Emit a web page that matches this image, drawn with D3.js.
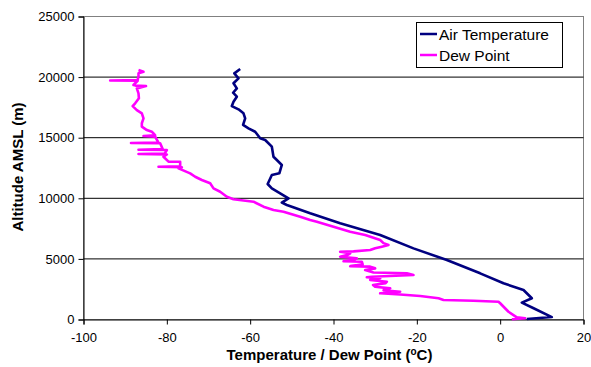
<!DOCTYPE html>
<html>
<head>
<meta charset="utf-8">
<script src="https://cdn.jsdelivr.net/npm/d3@7"></script>
<style>
  body { margin: 0; background: #fff; }
  svg { display: block; font-family: "Liberation Sans", Arial, sans-serif; }
</style>
</head>
<body>
<svg id="chart" width="591" height="367"></svg>
<script>
// altitude (m) / air temperature (C), surface upward
const airAlt = [40, 200, 950, 1390, 1750, 2430, 2990, 3810, 4910, 5870, 6970, 7940, 8760, 9450, 9640,
  10000, 10410, 10820, 11180, 11920, 12060, 12750, 13160, 13430, 14260, 14810, 14950, 15490, 15770,
  16050, 16600, 17010, 17340, 17610, 17970, 18380, 18710, 19070, 19490, 19900, 20310, 20670];
const airTemp = [6.4, 12.4, 7.9, 5.2, 7.6, 5.6, 0.8, -4.8, -12.8, -20.8, -28.8, -38.4, -45.6, -51.2, -52.4,
  -50.8, -52.8, -54.8, -55.8, -54.8, -53.0, -52.4, -53.6, -54.4, -54.8, -56.4, -57.6, -58.8, -60.4,
  -61.7, -61.2, -61.6, -62.8, -64.4, -64.0, -63.2, -64.1, -63.2, -64.0, -62.8, -63.8, -62.4];

// altitude (m) / dew point (C)
const dewAlt = [20, 100, 180, 640, 1340, 1470, 1550, 1610, 1750, 1940, 2060, 2160, 2290, 2420, 2570,
  2700, 2850, 3000, 3120, 3260, 3400, 3480, 3530, 3670, 3810, 3880, 4080, 4220, 4360, 4400, 4550,
  4770, 4800, 4950, 5050, 5180, 5350, 5460, 5590, 5620, 5730, 5880, 6010, 6150, 6300, 6560, 6970,
  7240, 7660, 8070, 8210, 8480, 8890, 9030, 9310, 9720, 9920, 10130, 10540, 10820, 11240, 11510,
  11780, 12060, 12470, 12560, 12600, 12650, 13020, 13020, 13430, 13620, 13650, 13700, 13980, 14000,
  14060, 14540, 14560, 14600, 15080, 15140, 15200, 15360, 15490, 15630, 15910, 16190, 16600, 17010,
  17280, 17610, 17840, 18250, 18660, 19070, 19260, 19300, 19350, 19490, 19700, 19720, 19760, 20100,
  20310, 20440, 20580];
const dewTemp = [2.8, 6.0, 4.0, 2.0, 0.0, -0.4, -6.4, -13.6, -14.8, -19.2, -24.0, -28.8, -24.0, -28.0, -26.4,
  -30.0, -30.5, -27.5, -27.2, -31.2, -28.8, -32.0, -30.8, -20.8, -22.4, -30.4, -32.4, -30.0, -31.2, -36.0, -33.0,
  -33.2, -37.6, -35.0, -34.4, -38.4, -36.5, -36.0, -38.4, -35.2, -31.2, -30.0, -28.4, -26.8, -28.0, -28.8, -32.4,
  -36.0, -40.0, -44.0, -45.6, -48.0, -52.0, -54.4, -56.8, -59.2, -64.0, -65.6, -67.2, -68.8, -69.6, -71.6,
  -73.2, -74.4, -77.2, -76.4, -82.0, -76.8, -76.8, -79.6, -80.8, -80.0, -86.8, -80.5, -80.0, -86.8,
  -81.0, -81.6, -88.6, -82.0, -82.8, -85.6, -82.8, -83.2, -83.6, -84.8, -86.0, -86.0, -85.6, -86.0,
  -87.2, -88.2, -87.6, -86.7, -86.8, -87.2, -85.0, -87.5, -88.0, -87.6, -87.0, -93.6, -87.0, -86.8,
  -86.8, -85.6, -86.8];

const xTicks = [-100, -80, -60, -40, -20, 0, 20];
const yTicks = [0, 5000, 10000, 15000, 20000, 25000];
const gridAlt = [5000, 10000, 15000, 20000];
const seriesNames = ['Air Temperature', 'Dew Point'];
const seriesColors = ['#000080', '#ff00ff'];

const plotLeft = 83.5, plotRight = 583.5, plotTop = 16.5, plotBottom = 319.5;

const svg = d3.select('#chart');
const x = d3.scaleLinear().domain([-100, 20]).range([plotLeft, plotRight]);
const y = d3.scaleLinear().domain([0, 25000]).range([plotBottom, plotTop]);

// plot area border
svg.append('rect')
  .attr('x', plotLeft).attr('y', plotTop)
  .attr('width', plotRight - plotLeft).attr('height', plotBottom - plotTop)
  .attr('fill', '#fff')
  .attr('stroke', '#808080');

svg.append('g').selectAll('line')
  .data(gridAlt)
  .join('line')
  .attr('x1', plotLeft).attr('x2', plotRight)
  .attr('y1', d => y(d)).attr('y2', d => y(d))
  .attr('stroke', '#000')
  .attr('stroke-width', 1);

const yAxis = d3.axisLeft(y).tickValues(yTicks).tickSize(5).tickPadding(4).tickFormat(d3.format('d'));
const xAxis = d3.axisBottom(x).tickValues(xTicks).tickSize(5).tickPadding(8).tickFormat(d3.format('d'));

const gy = svg.append('g').attr('transform', `translate(${plotLeft},0)`).call(yAxis);
const gx = svg.append('g').attr('transform', `translate(0,${plotBottom})`).call(xAxis);
[gx, gy].forEach(g => {
  g.select('.domain').attr('stroke', '#000');
  g.selectAll('.tick line').attr('stroke', '#000');
  g.selectAll('.tick text')
    .attr('fill', '#000')
    .style('font-size', '13px')
    .style('font-family', '"Liberation Sans", Arial, sans-serif');
});
gx.selectAll('.tick text').text(d => d < 0 ? '-' + Math.abs(d) : d);

const line = d3.line().x(d => x(d[1])).y(d => y(d[0]));

const series = [
  d3.zip(airAlt, airTemp),
  d3.zip(dewAlt, dewTemp)
];

// dew point under air temperature
[1, 0].forEach(i => {
  svg.append('path')
    .datum(series[i])
    .attr('d', line)
    .attr('fill', 'none')
    .attr('stroke', seriesColors[i])
    .attr('stroke-width', 2.6)
    .attr('stroke-linejoin', 'round');
});

// legend
const lg = svg.append('g');
lg.append('rect')
  .attr('x', 416.5).attr('y', 22.5)
  .attr('width', 146).attr('height', 45)
  .attr('fill', '#fff').attr('stroke', '#000');
seriesNames.forEach((name, i) => {
  const ly = 34 + i * 21;
  lg.append('line')
    .attr('x1', 420).attr('x2', 437)
    .attr('y1', ly).attr('y2', ly)
    .attr('stroke', seriesColors[i]).attr('stroke-width', 2.5);
  lg.append('text')
    .attr('x', 439).attr('y', ly + 5.5)
    .style('font-size', '15.5px')
    .text(name);
});

// axis titles
svg.append('text')
  .attr('transform', 'translate(23,167) rotate(-90)')
  .attr('text-anchor', 'middle')
  .style('font-size', '15px')
  .style('font-weight', 'bold')
  .text('Altitude AMSL (m)');

const xt = svg.append('text')
  .attr('x', x(-40) - 4).attr('y', 360)
  .attr('text-anchor', 'middle')
  .style('font-size', '15px')
  .style('font-weight', 'bold');
xt.append('tspan').text('Temperature / Dew Point (');
xt.append('tspan').attr('dy', -5).style('font-size', '10px').text('o');
xt.append('tspan').attr('dy', 5).text('C)');
</script>
</body>
</html>
